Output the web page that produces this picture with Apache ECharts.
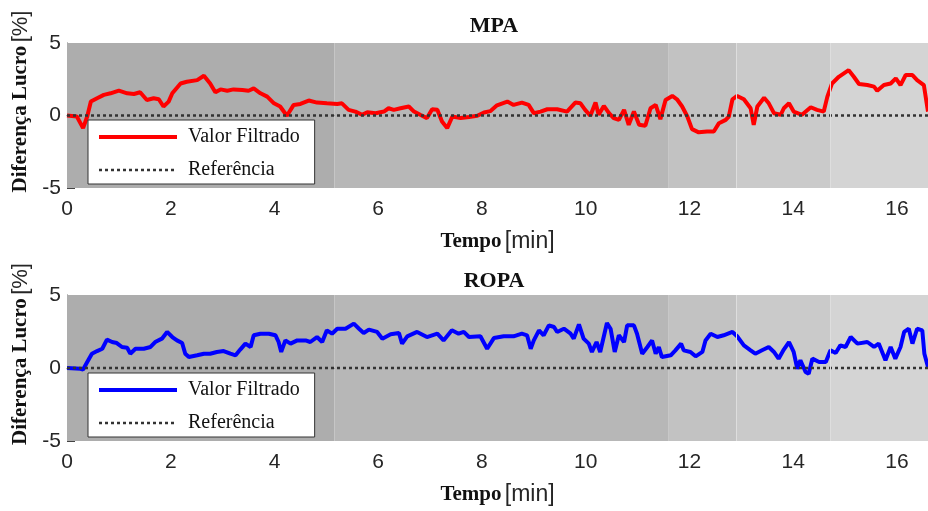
<!DOCTYPE html>
<html>
<head>
<meta charset="utf-8">
<script src="https://cdn.jsdelivr.net/npm/echarts@6/dist/echarts.min.js"></script>
<style>
  html, body { margin: 0; padding: 0; background: #fff; }
  #chart { width: 928px; height: 511px; }
</style>
</head>
<body>
<div id="chart"></div>
<script>
// tempo [min] e diferença de lucro [%]
let mpaX = [0, 0.19, 0.31, 0.39, 0.46, 0.58, 0.71, 0.84, 1.0, 1.16, 1.29, 1.41, 1.54, 1.67, 1.77, 1.86, 1.96, 2.03, 2.19, 2.31,
    2.51, 2.64, 2.76, 2.86, 2.96, 3.09, 3.21, 3.38, 3.5, 3.6, 3.73, 3.86, 3.99, 4.11, 4.24, 4.37, 4.5, 4.66, 4.82, 5.01,
    5.21, 5.3, 5.43, 5.56, 5.69, 5.79, 5.95, 6.11, 6.2, 6.3, 6.43, 6.59, 6.69, 6.81, 6.94, 7.04, 7.14, 7.23, 7.33, 7.43,
    7.59, 7.75, 7.91, 8.04, 8.16, 8.29, 8.49, 8.61, 8.77, 8.9, 9.0, 9.13, 9.26, 9.45, 9.64, 9.8, 9.9, 9.99, 10.09, 10.19,
    10.25, 10.35, 10.45, 10.54, 10.64, 10.74, 10.83, 10.93, 11.03, 11.15, 11.25, 11.35, 11.44, 11.54, 11.67, 11.76, 11.86, 11.96, 12.05, 12.18,
    12.34, 12.47, 12.57, 12.7, 12.76, 12.83, 12.92, 13.05, 13.18, 13.24, 13.31, 13.44, 13.53, 13.63, 13.76, 13.82, 13.92, 14.01, 14.17, 14.34,
    14.46, 14.59, 14.66, 14.75, 14.88, 15.07, 15.17, 15.27, 15.43, 15.56, 15.62, 15.75, 15.88, 15.98, 16.07, 16.17, 16.3, 16.39, 16.52, 16.6];
let mpaY = [0, -0.07, -0.87, -0.07, 0.96, 1.19, 1.42, 1.53, 1.71, 1.53, 1.48, 1.6, 1.07, 1.19, 1.12, 0.62, 0.96, 1.53, 2.21, 2.33,
    2.44, 2.74, 2.21, 1.6, 1.8, 1.71, 1.8, 1.76, 1.71, 1.87, 1.53, 1.3, 0.84, 0.62, -0.02, 0.73, 0.8, 1.03, 0.89, 0.84,
    0.8, 0.84, 0.39, 0.27, 0.05, 0.23, 0.16, 0.27, 0.5, 0.39, 0.5, 0.62, 0.27, 0.05, -0.18, 0.43, 0.39, -0.41, -0.87, -0.07,
    -0.18, -0.11, -0.02, 0.21, 0.3, 0.7, 0.96, 0.73, 0.89, 0.73, 0.16, 0.27, 0.43, 0.43, 0.27, 0.89, 0.84, 0.39, -0.02, 0.89,
    0.05, 0.66, 0.16, -0.18, -0.3, 0.39, -0.64, 0.27, -0.64, -0.71, 0.5, 0.73, -0.25, 1.07, 1.35, 1.12, 0.62, -0.07, -0.94, -1.16,
    -1.1, -1.1, -0.53, -0.3, -0.07, 1.12, 1.35, 1.12, 0.5, -0.64, 0.62, 1.23, 0.84, 0.16, 0.05, 0.5, 0.84, 0.27, 0.05, 0.57,
    0.39, 0.27, 1.3, 2.21, 2.67, 3.13, 2.67, 2.17, 2.1, 1.99, 1.71, 2.1, 2.21, 2.56, 2.1, 2.79, 2.79, 2.44, 2.1, 0.27];

let ropaX = [0, 0.26, 0.31, 0.39, 0.48, 0.58, 0.68, 0.77, 0.87, 0.96, 1.06, 1.16, 1.22, 1.32, 1.48, 1.61, 1.7, 1.83, 1.93, 2.03,
    2.12, 2.22, 2.28, 2.35, 2.51, 2.64, 2.76, 2.89, 3.02, 3.15, 3.25, 3.34, 3.44, 3.54, 3.6, 3.73, 3.89, 4.02, 4.08, 4.13,
    4.21, 4.31, 4.44, 4.6, 4.69, 4.82, 4.92, 5.01, 5.11, 5.21, 5.37, 5.53, 5.63, 5.72, 5.82, 5.98, 6.08, 6.24, 6.4, 6.46,
    6.56, 6.75, 6.94, 7.14, 7.26, 7.42, 7.55, 7.65, 7.75, 7.97, 8.1, 8.23, 8.42, 8.61, 8.77, 8.87, 8.94, 9.0, 9.1, 9.19,
    9.29, 9.39, 9.45, 9.58, 9.71, 9.77, 9.87, 9.96, 10.06, 10.12, 10.21, 10.28, 10.41, 10.48, 10.56, 10.64, 10.74, 10.8, 10.93, 10.99,
    11.09, 11.19, 11.28, 11.35, 11.41, 11.47, 11.64, 11.73, 11.84, 11.89, 12.02, 12.12, 12.25, 12.31, 12.41, 12.54, 12.66, 12.83, 12.92, 13.05,
    13.18, 13.27, 13.4, 13.53, 13.63, 13.72, 13.82, 13.92, 14.01, 14.08, 14.14, 14.24, 14.3, 14.37, 14.5, 14.63, 14.72, 14.82, 14.91, 15.01,
    15.11, 15.24, 15.43, 15.56, 15.65, 15.78, 15.88, 15.97, 16.07, 16.14, 16.23, 16.3, 16.39, 16.49, 16.53, 16.6];
let ropaY = [0, -0.05, -0.1, 0.41, 0.98, 1.16, 1.32, 1.94, 1.78, 1.71, 1.44, 1.39, 0.98, 1.32, 1.32, 1.44, 1.78, 2.01, 2.47, 2.12,
    1.89, 1.71, 0.98, 0.75, 0.87, 0.98, 0.98, 1.1, 1.16, 0.98, 0.87, 1.26, 1.67, 1.44, 2.24, 2.35, 2.35, 2.24, 1.78, 1.1,
    1.89, 1.67, 1.89, 1.89, 1.78, 2.12, 1.78, 2.58, 2.35, 2.69, 2.69, 3.04, 2.69, 2.4, 2.63, 2.47, 2.01, 2.31, 2.4, 1.67,
    2.17, 2.47, 2.12, 2.35, 1.89, 2.58, 2.35, 2.47, 2.12, 2.17, 1.32, 2.05, 2.17, 2.17, 2.35, 2.24, 1.32, 1.89, 2.58, 2.24,
    2.92, 2.81, 2.47, 2.69, 2.35, 2.01, 2.99, 2.01, 1.67, 1.1, 1.78, 1.1, 3.08, 2.69, 1.1, 2.24, 1.78, 2.92, 2.92, 2.35,
    0.98, 1.44, 1.89, 0.98, 1.44, 0.75, 0.87, 1.21, 1.67, 1.21, 1.1, 0.8, 1.1, 1.89, 2.35, 2.12, 2.24, 2.47, 2.17, 1.55,
    1.21, 0.98, 1.21, 1.44, 1.1, 0.64, 1.26, 1.78, 1.1, -0.05, 0.53, -0.27, -0.39, 0.64, 0.41, 0.41, 1.21, 1.03, 1.55, 1.44,
    2.12, 1.67, 1.78, 1.44, 1.67, 0.53, 1.44, 0.64, 1.44, 2.47, 2.69, 1.67, 2.69, 2.58, 0.98, 0.07];

let refX = [0, 16.6];
let refY = [0, 0];

// faixas de fundo (início/fim em minutos)
let bandStart = [0, 5.155, 11.59, 12.91, 14.72];
let bandEnd = [5.155, 11.59, 12.91, 14.72, 16.6];
let bandColors = ['#adadad', '#b7b7b7', '#c2c2c2', '#cacaca', '#d4d4d4'];
let bandLines = [12.91, 14.72];

let xTicks = [0, 2, 4, 6, 8, 10, 12, 14, 16];
let titles = ['MPA', 'ROPA'];

function zip(xs, ys) {
    return xs.map(function (x, i) { return [x, ys[i]]; });
}

let serif = 'Liberation Serif';
let sans = 'Liberation Sans';

let bands = bandStart.map(function (s, i) {
    return [{ xAxis: s, itemStyle: { color: bandColors[i] } }, { xAxis: bandEnd[i] }];
});

let grids = [
    { left: 67, right: 0, top: 43, height: 145, outerBoundsMode: 'none' },
    { left: 67, right: 0, top: 295, height: 146, outerBoundsMode: 'none' }
];

function xAxisFor(i) {
    return {
        type: 'value', gridIndex: i, min: 0, max: 16.6, interval: 2,
        name: '{b|Tempo} {s|[min]}',
        nameLocation: 'middle', nameGap: 42, nameMoveOverlap: false,
        nameTextStyle: {
            padding: [0, 0, 0, 0],
            rich: {
                b: { fontFamily: serif, fontWeight: 'bold', fontSize: 21, color: '#111' },
                s: { fontFamily: sans, fontSize: 23, color: '#262626' }
            }
        },
        axisLine: { show: true, lineStyle: { color: '#606060', width: 1 } },
        axisTick: { show: false },
        splitLine: { show: false },
        axisLabel: {
            fontFamily: sans, fontSize: 21, color: '#262626', margin: 11,
            showMaxLabel: false,
            formatter: function (v) { return xTicks.indexOf(v) >= 0 ? String(v) : ''; }
        }
    };
}

function yAxisFor(i) {
    return {
        type: 'value', gridIndex: i, min: -5, max: 5, interval: 5,
        name: '{b|Diferença Lucro} {s|[%]}',
        nameLocation: 'middle', nameGap: 35, nameMoveOverlap: false,
        nameTextStyle: {
            padding: [0, 0, 0, 28],
            rich: {
                b: { fontFamily: serif, fontWeight: 'bold', fontSize: 21, color: '#111' },
                s: { fontFamily: sans, fontSize: 22, color: '#262626' }
            }
        },
        axisLine: { show: true, lineStyle: { color: '#606060', width: 1 } },
        axisTick: { show: true, inside: true, length: 8, lineStyle: { color: '#444' } },
        splitLine: { show: false },
        axisLabel: { fontFamily: sans, fontSize: 21, color: '#262626', margin: 6 }
    };
}

function legendFor(i, top) {
    return {
        orient: 'vertical', left: 88, top: top,
        data: [
            { name: 'Valor Filtrado|' + i, lineStyle: { width: 4 } },
            { name: 'Referência|' + i, lineStyle: { width: 2.5 } }
        ],
        formatter: function (name) { return name.split('|')[0]; },
        backgroundColor: '#fff', borderColor: '#333', borderWidth: 1, borderRadius: 0,
        padding: [7, 15, 4, 9],
        itemWidth: 78, itemHeight: 14, itemGap: 13,
        selectedMode: false,
        itemStyle: { opacity: 0 },
        textStyle: { fontFamily: serif, fontSize: 20, color: '#111', padding: [0, 0, 0, 6] }
    };
}

let lineColors = ['#ff0000', '#0000ff'];
let lineData = [zip(mpaX, mpaY), zip(ropaX, ropaY)];

let series = [];
for (let i = 0; i < 2; i++) {
    series.push({
        name: 'Referência|' + i,
        type: 'line', xAxisIndex: i, yAxisIndex: i,
        data: zip(refX, refY),
        showSymbol: false, symbol: 'none', silent: true, z: 3,
        lineStyle: { color: '#333', width: 2.5, type: [3, 3] },
        itemStyle: { color: '#333' },
        markArea: { silent: true, z: 1, data: bands },
        markLine: {
            silent: true, symbol: 'none', label: { show: false },
            lineStyle: { color: '#dedede', width: 1, type: 'solid' },
            data: bandLines.map(function (v) { return { xAxis: v }; })
        }
    });
    series.push({
        name: 'Valor Filtrado|' + i,
        type: 'line', xAxisIndex: i, yAxisIndex: i,
        data: lineData[i],
        showSymbol: false, symbol: 'none', z: 2,
        lineStyle: { color: lineColors[i], width: 4 },
        itemStyle: { color: lineColors[i] }
    });
}

option = {
    animation: false,
    title: titles.map(function (t, i) {
        return {
            text: t, left: 489, top: i === 0 ? 10 : 265, textAlign: 'center',
            textStyle: { fontFamily: serif, fontWeight: 'bold', fontSize: 22, color: '#111' }
        };
    }),
    grid: grids,
    xAxis: [xAxisFor(0), xAxisFor(1)],
    yAxis: [yAxisFor(0), yAxisFor(1)],
    legend: [legendFor(0, 120), legendFor(1, 373)],
    series: series
};

let myChart = echarts.init(document.getElementById('chart'));
myChart.setOption(option);
</script>
</body>
</html>
